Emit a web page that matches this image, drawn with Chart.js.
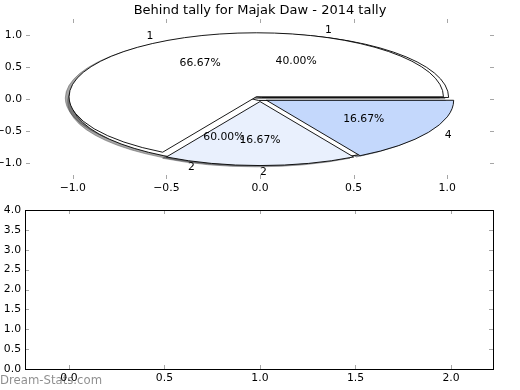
<!DOCTYPE html>
<html><head><meta charset="utf-8">
<script src="https://cdn.jsdelivr.net/npm/chart.js@4.4.0/dist/chart.umd.min.js"></script>
<style>
html,body{margin:0;padding:0;background:#fff;}
#wrap{position:relative;width:520px;height:390px;overflow:hidden;background:#fff;}
canvas{position:absolute;left:0;top:0;}
</style></head><body>
<div id="wrap"><canvas id="c1" width="520" height="390"></canvas><canvas id="c2" width="520" height="390"></canvas></div>
<script>
const titleText = 'Behind tally for Majak Daw - 2014 tally';
// pie drawn on top
const frontValues = [4, 1, 1];
const frontLabels = ['1', '2', '4'];
const frontColors = ['#ffffff', '#e9f0fd', '#c4d8fc'];
// pie drawn underneath
const backValues = [2, 3];
const backLabels = ['1', '2'];
const backColors = ['#ffffff', '#ffffff'];
// axis ticks
const pieTicks = [-1.0, -0.5, 0.0, 0.5, 1.0];
const lowerXTicks = [0.0, 0.5, 1.0, 1.5, 2.0];
const lowerYTicks = [0.0, 0.5, 1.0, 1.5, 2.0, 2.5, 3.0, 3.5, 4.0];
const watermark = 'Dream-Stats.com';

const FONT = "'DejaVu Sans', sans-serif";
const FRONT_EXPLODE = 0.04;
const BACK_EXPLODE = 0.025;
const SHADOW_OFF = 0.02;

function fmt(v) { return (v < 0 ? '\u2212' : '') + Math.abs(v).toFixed(1); }

function buildWedges(values, explode, colors, labels) {
  const total = values.reduce((a, b) => a + b, 0);
  let t0 = 0;
  return values.map((v, i) => {
    const frac = v / total;
    const t1 = t0, t2 = t0 + frac;
    t0 = t2;
    const thm = Math.PI * (t1 + t2);
    return { th1: 2 * Math.PI * t1, th2: 2 * Math.PI * t2, thm, frac,
      cx: explode * Math.cos(thm), cy: explode * Math.sin(thm), color: colors[i], label: labels[i] };
  });
}

function shadowColor(hex) {
  const n = parseInt(hex.slice(1), 16);
  const r = Math.round(((n >> 16) & 255) * 0.3), g = Math.round(((n >> 8) & 255) * 0.3), b = Math.round((n & 255) * 0.3);
  return `rgba(${r},${g},${b},0.5)`;
}

const piePlugin = {
  id: 'piePlugin',
  afterDatasetsDraw(chart) {
    const { ctx, scales: { x, y } } = chart;
    const X = v => x.getPixelForValue(v), Y = v => y.getPixelForValue(v);
    const rx = X(1) - X(0), ry = Y(0) - Y(1);
    const back = buildWedges(backValues, BACK_EXPLODE, backColors, backLabels);
    const front = buildWedges(frontValues, FRONT_EXPLODE, frontColors, frontLabels);
    const path = (w, dx, dy) => {
      const cx = X(w.cx + dx), cy = Y(w.cy + dy);
      ctx.beginPath();
      ctx.moveTo(cx, cy);
      ctx.ellipse(cx, cy, rx, ry, 0, -w.th1, -w.th2, true);
      ctx.closePath();
    };
    ctx.save();
    ctx.lineJoin = 'miter';
    [...back, ...front].forEach(w => {
      path(w, -SHADOW_OFF, -SHADOW_OFF);
      ctx.fillStyle = shadowColor(w.color);
      ctx.strokeStyle = shadowColor(w.color);
      ctx.lineWidth = 0.9;
      ctx.fill(); ctx.stroke();
    });
    [...back, ...front].forEach(w => {
      path(w, 0, 0);
      ctx.fillStyle = w.color;
      ctx.strokeStyle = '#000';
      ctx.lineWidth = 0.9;
      ctx.fill(); ctx.stroke();
    });
    ctx.fillStyle = '#000';
    ctx.font = `10.8px ${FONT}`;
    ctx.textBaseline = 'middle';
    [...back, ...front].forEach(w => {
      const lx = w.cx + 1.1 * Math.cos(w.thm), ly = w.cy + 1.1 * Math.sin(w.thm);
      ctx.textAlign = lx > -1e-9 ? 'left' : 'right';
      ctx.fillText(w.label, X(lx), Y(ly));
      const px = w.cx + 0.6 * Math.cos(w.thm), py = w.cy + 0.6 * Math.sin(w.thm);
      ctx.textAlign = 'center';
      ctx.fillText((w.frac * 100).toFixed(2) + '%', X(px), Y(py));
    });
    ctx.restore();
  }
};

const tickMarks = {
  id: 'tickMarks',
  afterDraw(chart, args, opts) {
    const { ctx, chartArea: a, scales: { x, y } } = chart;
    ctx.save();
    ctx.strokeStyle = opts.color;
    ctx.lineWidth = 1;
    ctx.beginPath();
    x.ticks.forEach(t => {
      const p = Math.round(x.getPixelForValue(t.value)) + 0.5;
      ctx.moveTo(p, a.top); ctx.lineTo(p, a.top + 4);
      ctx.moveTo(p, a.bottom); ctx.lineTo(p, a.bottom - 4);
    });
    y.ticks.forEach(t => {
      const p = Math.round(y.getPixelForValue(t.value)) + 0.5;
      ctx.moveTo(a.left, p); ctx.lineTo(a.left + 4, p);
      ctx.moveTo(a.right, p); ctx.lineTo(a.right - 4, p);
    });
    ctx.stroke();
    if (opts.frame) {
      ctx.strokeStyle = '#000';
      ctx.strokeRect(Math.round(a.left) + 0.5, Math.round(a.top) + 0.5, Math.round(a.right - a.left), Math.round(a.bottom - a.top));
    }
    if (opts.watermark) {
      ctx.fillStyle = 'rgba(0,0,0,0.45)';
      ctx.font = `11.7px ${FONT}`;
      ctx.textAlign = 'left';
      ctx.textBaseline = 'alphabetic';
      ctx.fillText(opts.watermark, 0, 384);
    }
    ctx.restore();
  }
};

function axis(min, max, tickVals, size, isY, pad) {
  return {
    type: 'linear', min, max,
    grid: { display: false, drawTicks: false },
    border: { display: false },
    afterBuildTicks: s => { s.ticks = tickVals.map(v => ({ value: v })); },
    afterFit: s => { if (isY) s.width = size; else s.height = size; },
    ticks: { callback: v => fmt(v), color: '#000', font: { family: FONT, size: 10.8 }, padding: pad, maxRotation: 0, autoSkip: false }
  };
}

function spacer(size) {
  return {
    type: 'linear', position: 'right', display: true,
    grid: { display: false, drawTicks: false }, border: { display: false },
    ticks: { display: false },
    afterFit: s => { s.width = size; }
  };
}

new Chart(document.getElementById('c1'), {
  type: 'scatter',
  data: { datasets: [] },
  options: {
    responsive: false, animation: false, devicePixelRatio: 1,
    layout: { padding: { left: 0, right: 0, top: 0, bottom: 190 } },
    plugins: {
      legend: { display: false }, tooltip: { enabled: false },
      title: { display: true, text: titleText, color: '#000', font: { family: FONT, size: 13, weight: 'normal', lineHeight: 1.2 }, padding: { top: 2.7, bottom: 0.7 } },
      tickMarks: { color: 'rgba(0,0,0,0.35)', frame: false }
    },
    scales: {
      x: axis(-1.25, 1.25, pieTicks, 21, false, 3),
      y: axis(-1.25, 1.25, pieTicks, 26, true, 4),
      yPad: spacer(26)
    }
  },
  plugins: [piePlugin, tickMarks]
});

new Chart(document.getElementById('c2'), {
  type: 'scatter',
  data: { datasets: [] },
  options: {
    responsive: false, animation: false, devicePixelRatio: 1,
    layout: { padding: { left: 0, right: 27, top: 210, bottom: 0 } },
    plugins: {
      legend: { display: false }, tooltip: { enabled: false }, title: { display: false },
      tickMarks: { color: 'rgba(0,0,0,0.35)', frame: true, watermark: watermark }
    },
    scales: {
      x: axis(-0.23, 2.22, lowerXTicks, 21, false, 3),
      y: axis(0, 4, lowerYTicks, 25, true, 4)
    }
  },
  plugins: [tickMarks]
});
</script>
</body></html>
